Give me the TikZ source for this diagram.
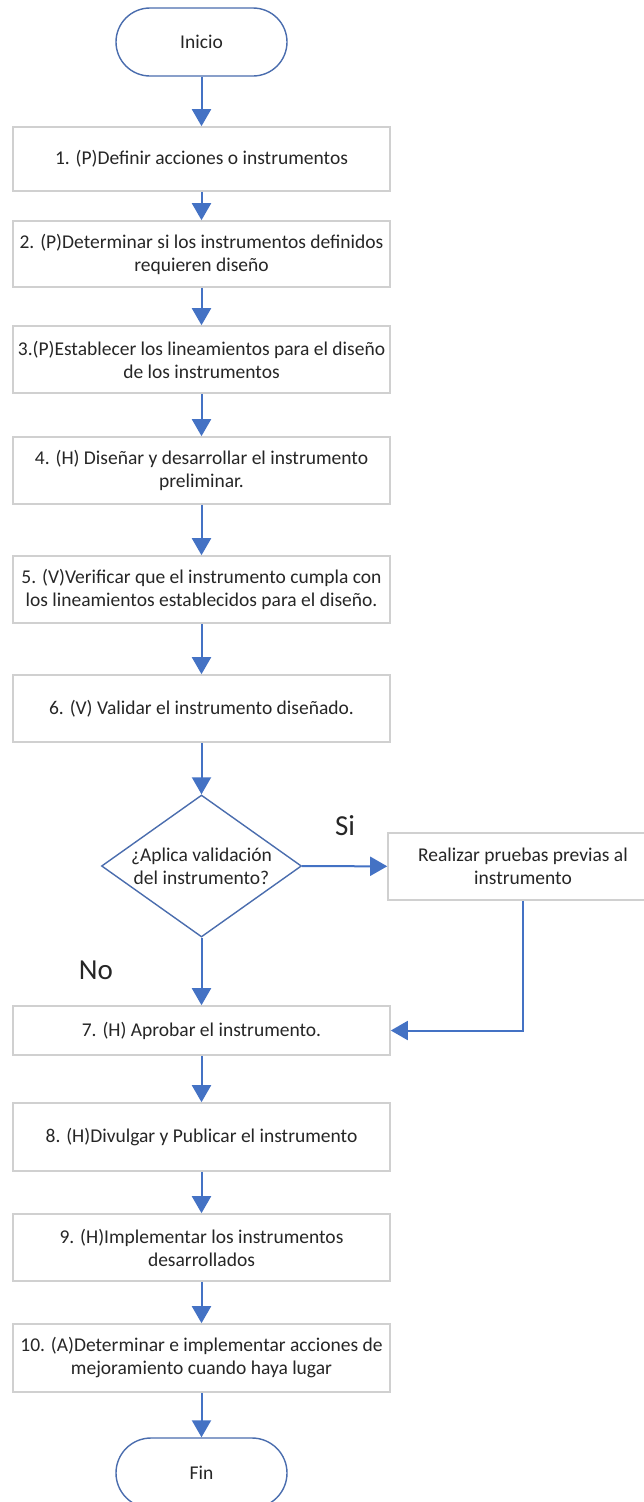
\documentclass[tikz,border=0pt]{standalone}
\usepackage{fontspec}
\setmainfont{Carlito}
\usetikzlibrary{arrows.meta,shapes.geometric}
\definecolor{arrowblue}{HTML}{4472C4}
\definecolor{shapeblue}{HTML}{4A6DAE}
\definecolor{boxgray}{HTML}{D0D0D0}
\definecolor{txt}{HTML}{262626}
\tikzset{
  every node/.style={text=txt, font=\fontsize{19.5}{23}\selectfont},
  stepbox/.style={draw=boxgray, line width=1.6pt, fill=white, minimum width=377pt, align=center, inner sep=0pt},
  terminal/.style={draw=shapeblue, line width=1.4pt, fill=white, minimum width=171pt, minimum height=68pt, rounded corners=34pt},
  decision/.style={draw=shapeblue, line width=1.4pt, fill=white, diamond, aspect=1.41, minimum width=200pt, minimum height=142pt, inner sep=0pt, align=center},
  flow/.style={draw=arrowblue, line width=2pt, -{Triangle[length=17pt,width=19pt]}},
  lbl/.style={font=\fontsize{29}{34}\selectfont}
}
\begin{document}
\begin{tikzpicture}[x=1pt,y=-1pt]
\useasboundingbox (0,0) rectangle (644,1502);
\clip (0,0) rectangle (644,1502);
\node[terminal] (inicio) at (201.5,42) {Inicio};
\node[stepbox, minimum height=64pt] (b1) at (201.5,159) {1. (P)Definir acciones o instrumentos};
\node[stepbox, minimum height=66pt] (b2) at (201.5,254) {2. (P)Determinar si los instrumentos definidos\\requieren diseño};
\node[stepbox, minimum height=67pt] (b3) at (201.5,359.5) {3.(P)Establecer los lineamientos para el diseño\\de los instrumentos};
\node[stepbox, minimum height=67pt] (b4) at (201.5,470.5) {4. (H) Diseñar y desarrollar el instrumento\\preliminar.};
\node[stepbox, minimum height=67pt] (b5) at (201.5,589.5) {5. (V)Verificar que el instrumento cumpla con\\los lineamientos establecidos para el diseño.};
\node[stepbox, minimum height=67pt] (b6) at (201.5,708.5) {6. (V) Validar el instrumento diseñado.};
\node[decision] (dec) at (201.5,866) {¿Aplica validación\\del instrumento?};
\node[stepbox, minimum width=270pt, minimum height=67pt] (real) at (523,866.5) {Realizar pruebas previas al\\instrumento};
\node[stepbox, minimum height=49pt] (b7) at (201.5,1030.5) {7. (H) Aprobar el instrumento.};
\node[stepbox, minimum height=68pt] (b8) at (201.5,1137) {8. (H)Divulgar y Publicar el instrumento};
\node[stepbox, minimum height=67pt] (b9) at (201.5,1247.5) {9. (H)Implementar los instrumentos\\desarrollados};
\node[stepbox, minimum height=68pt] (b10) at (201.5,1358) {10. (A)Determinar e implementar acciones de\\mejoramiento cuando haya lugar};
\node[terminal, minimum height=70pt, rounded corners=35pt] (fin) at (201.5,1473) {Fin};
\node[lbl] (si) at (345,826) {Si};
\node[lbl] (no) at (96,970) {No};
\draw[flow] (inicio) -- (b1);
\draw[flow] (b1) -- (b2);
\draw[flow] (b2) -- (b3);
\draw[flow] (b3) -- (b4);
\draw[flow] (b4) -- (b5);
\draw[flow] (b5) -- (b6);
\draw[flow] (b6) -- (dec);
\draw[flow] (dec) -- (real);
\draw[flow] (dec) -- (b7);
\draw[flow] (real.south) |- (b7.east);
\draw[flow] (b7) -- (b8);
\draw[flow] (b8) -- (b9);
\draw[flow] (b9) -- (b10);
\draw[flow] (b10) -- (fin);
\end{tikzpicture}
\end{document}
